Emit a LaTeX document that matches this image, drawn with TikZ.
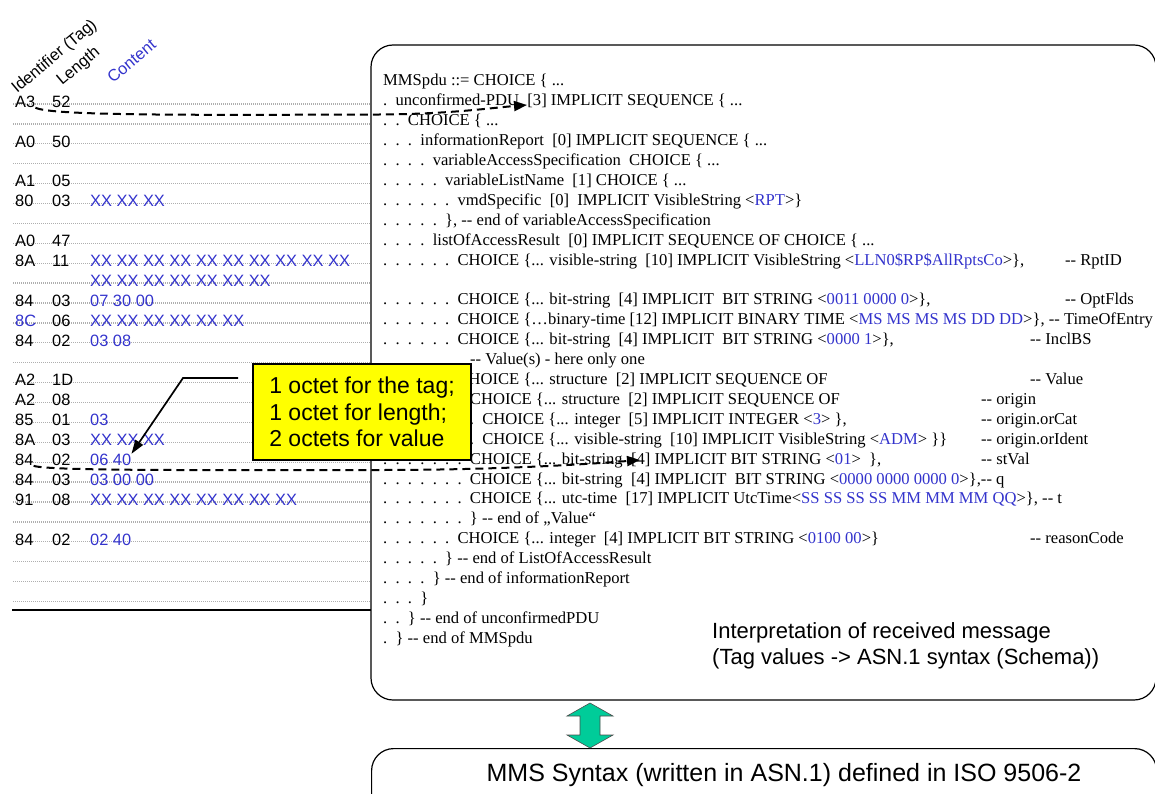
\documentclass[tikz,border=0pt]{standalone}
\usepackage{fontspec}
\setmainfont{Liberation Serif}
\newfontfamily\arialfont{Liberation Sans}
\usetikzlibrary{arrows.meta}
\definecolor{tagblue}{RGB}{51,51,204}
\definecolor{noteyellow}{RGB}{255,255,0}
\definecolor{linkgreen}{RGB}{0,204,153}
\definecolor{rulegray}{RGB}{175,175,175}
\newcommand{\blu}[1]{\textcolor{tagblue}{#1}}
\newcommand{\asndots}[1]{\foreach \k in {1,...,#1}{\makebox[12.4pt][l]{.}}}
\newcommand{\asndash}{-{}-}

\begin{document}
\begin{tikzpicture}[x=1pt,y=-1pt,
  octet/.style={anchor=base west, inner sep=0pt, font=\arialfont\fontsize{16.4}{18}\selectfont},
  asn/.style={anchor=base west, inner sep=0pt, font=\fontsize{16.6}{18}\selectfont},
  rowrule/.style={rulegray, line width=1.3pt, dash pattern=on 1pt off 1pt},
  dashlink/.style={line width=2pt, dash pattern=on 8pt off 5pt, -{Triangle[length=13pt,width=10pt]}},
  leader/.style={line width=1.7pt, -{Triangle[length=14pt,width=9pt]}},
  roundbox/.style={draw, line width=1.2pt, rounded corners=22pt, inner sep=0pt},
  notebox/.style={draw, line width=1.2pt, fill=noteyellow, minimum width=218pt, minimum height=96pt,
    align=left, font=\arialfont\fontsize{23}{26.5}\selectfont},
  bigsans/.style={anchor=base west, inner sep=0pt, font=\arialfont\fontsize{22}{26}\selectfont}]
\useasboundingbox (0,0) rectangle (1155,794);

\node[roundbox, minimum width=785pt, minimum height=655pt] (interp) at (763.5,372.5) {};
\node[roundbox, anchor=north west, minimum width=785pt, minimum height=80pt] (mms) at (371,748) {};

\node[octet, rotate=40] (hdtag) at (17,94) {Identifier (Tag)};
\node[octet, rotate=40] (hdlen) at (62,86) {Length};
\node[octet, rotate=40, text=tagblue] (hdcont) at (113,84) {Content};

\foreach \r in {1,...,26}
  \draw[rowrule] (13,{84.1+19.9*\r}) -- (371,{84.1+19.9*\r});
\draw[line width=1.2pt] (12,610) -- (371,610);

\foreach \r/\tagv/\lenv/\cntv in {1/A3/52/{}, 3/A0/50/{}, 5/A1/05/{}, 6/80/03/XX XX XX,
    8/A0/47/{}, 9/8A/11/XX XX XX XX XX XX XX XX XX XX, 10/{}/{}/XX XX XX XX XX XX XX,
    11/84/03/07 30 00, 12/\blu{8C}/06/XX XX XX XX XX XX, 13/84/02/03 08,
    15/A2/1D/{}, 16/A2/08/{}, 17/85/01/03, 18/8A/03/XX XX XX, 19/84/02/06 40,
    20/84/03/03 00 00, 21/91/08/XX XX XX XX XX XX XX XX, 23/84/02/02 40}
{
  \node[octet] (t\r) at (15,{87.4+19.9*\r}) {\tagv};
  \node[octet] (l\r) at (52,{87.4+19.9*\r}) {\lenv};
  \node[octet, text=tagblue] (c\r) at (90,{87.4+19.9*\r}) {\cntv};
}

\node[asn] (s0) at (383,86) {MMSpdu ::= CHOICE \{ ...};
\node[asn] (s1) at (383,105.9) {\asndots{1}unconfirmed-PDU~~[3] IMPLICIT SEQUENCE \{ ...};
\node[asn] (s2) at (383,125.8) {\asndots{2}CHOICE \{ ...};
\node[asn] (s3) at (383,145.7) {\asndots{3}informationReport~~[0] IMPLICIT SEQUENCE \{ ...};
\node[asn] (s4) at (383,165.6) {\asndots{4}variableAccessSpecification~~CHOICE \{ ...};
\node[asn] (s5) at (383,185.5) {\asndots{5}variableListName~~[1] CHOICE \{ ...};
\node[asn] (s6) at (383,205.4) {\asndots{6}vmdSpecific~~[0]~~IMPLICIT VisibleString <\blu{RPT}>\}};
\node[asn] (s7) at (383,225.3) {\asndots{5}\}, \asndash{} end of variableAccessSpecification};
\node[asn] (s8) at (383,245.2) {\asndots{4}listOfAccessResult~~[0] IMPLICIT SEQUENCE OF CHOICE \{ ...};
\node[asn] (s9) at (383,265.1) {\asndots{6}CHOICE \{... visible-string~~[10] IMPLICIT VisibleString <\blu{LLN0\$RP\$AllRptsCo}>\},};
\node[asn] (s11) at (383,304.9) {\asndots{6}CHOICE \{... bit-string~~[4] IMPLICIT~~BIT STRING <\blu{0011 0000 0}>\},};
\node[asn] (s12) at (383,324.8) {\asndots{6}CHOICE \{…binary-time [12] IMPLICIT BINARY TIME <\blu{MS MS MS MS DD DD}>\}, \asndash{} TimeOfEntry};
\node[asn] (s13) at (383,344.7) {\asndots{6}CHOICE \{... bit-string~~[4] IMPLICIT~~BIT STRING <\blu{0000 1}>\},};
\node[asn] (s14) at (470,364.6) {\asndash{} Value(s) - here only one};
\node[asn] (s15) at (383,384.5) {\asndots{6}CHOICE \{... structure~~[2] IMPLICIT SEQUENCE OF};
\node[asn] (s16) at (383,404.4) {\asndots{7}CHOICE \{... structure~~[2] IMPLICIT SEQUENCE OF};
\node[asn] (s17) at (383,424.3) {\asndots{8}CHOICE \{... integer~~[5] IMPLICIT INTEGER <\blu{3}> \},};
\node[asn] (s18) at (383,444.2) {\asndots{8}CHOICE \{... visible-string~~[10] IMPLICIT VisibleString <\blu{ADM}> \}\}};
\node[asn] (s19) at (383,464.1) {\asndots{7}CHOICE \{... bit-string~~[4] IMPLICIT BIT STRING <\blu{01}>~~\},};
\node[asn] (s20) at (383,484) {\asndots{7}CHOICE \{... bit-string~~[4] IMPLICIT~~BIT STRING <\blu{0000 0000 0000 0}>\},\asndash{} q};
\node[asn] (s21) at (383,503.9) {\asndots{7}CHOICE \{... utc-time~~[17] IMPLICIT UtcTime<\blu{SS SS SS SS MM MM MM QQ}>\}, \asndash{} t};
\node[asn] (s22) at (383,523.8) {\asndots{7}\} \asndash{} end of „Value“};
\node[asn] (s23) at (383,543.7) {\asndots{6}CHOICE \{... integer~~[4] IMPLICIT BIT STRING <\blu{0100 00}>\}};
\node[asn] (s24) at (383,563.6) {\asndots{5}\} \asndash{} end of ListOfAccessResult};
\node[asn] (s25) at (383,583.5) {\asndots{4}\} \asndash{} end of informationReport};
\node[asn] (s26) at (383,603.4) {\asndots{3}\}};
\node[asn] (s27) at (383,623.3) {\asndots{2}\} \asndash{} end of unconfirmedPDU};
\node[asn] (s28) at (383,643.2) {\asndots{1}\} \asndash{} end of MMSpdu};

\node[asn] (k9) at (1065,265.1) {\asndash{} RptID};
\node[asn] (k11) at (1065,304.9) {\asndash{} OptFlds};
\node[asn] (k13) at (1030,344.7) {\asndash{} InclBS};
\node[asn] (k15) at (1030,384.5) {\asndash{} Value};
\node[asn] (k16) at (981,404.4) {\asndash{} origin};
\node[asn] (k17) at (981,424.3) {\asndash{} origin.orCat};
\node[asn] (k18) at (981,444.2) {\asndash{} origin.orIdent};
\node[asn] (k19) at (981,464.1) {\asndash{} stVal};
\node[asn] (k23) at (1030,543.7) {\asndash{} reasonCode};

\node[bigsans] (interp1) at (712,638) {Interpretation of received message};
\node[bigsans] (interp2) at (712,664) {(Tag values -> ASN.1 syntax (Schema))};
\node[anchor=base, inner sep=0pt, font=\arialfont\fontsize{25}{28}\selectfont] (mmstext) at (784,781)
  {MMS Syntax (written in ASN.1) defined in ISO 9506-2};

\coordinate (tipA) at (527,105);
\coordinate (tipB) at (640,460);
\draw[dashlink] (t1.south east) .. controls (50,116) and (200,115) .. (380,114.5)
  .. controls (450,114) and (490,108) .. (tipA);
\draw[dashlink] (t19.south east) .. controls (50,471) and (200,470) .. (380,470)
  .. controls (500,470) and (590,464) .. (tipB);

\node[notebox] (octets) at (362,412) {1 octet for the tag;\\1 octet for length;\\2 octets for value};
\coordinate (leadfrom) at (238,378);
\draw[leader] (leadfrom) -- (183,378) -- (c19.north east);

\filldraw[fill=linkgreen, draw=black!70, line width=0.6pt] (590,703) -- (613,716) -- (600,716)
  -- (600,735) -- (613,735) -- (590,748) -- (567,735) -- (580,735) -- (580,716) -- (567,716) -- cycle;
\end{tikzpicture}
\end{document}
